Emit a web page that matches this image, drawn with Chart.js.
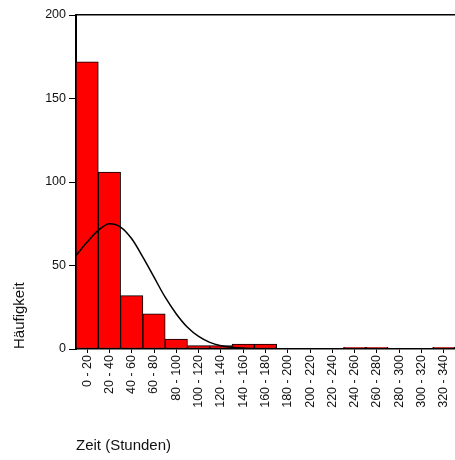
<!DOCTYPE html>
<html>
<head>
<meta charset="utf-8">
<script src="https://cdn.jsdelivr.net/npm/chart.js@4"></script>
<style>
  html, body { margin: 0; padding: 0; background: #fff; }
  #wrap { width: 455px; height: 460px; position: relative; }
</style>
</head>
<body>
<div id="wrap"><canvas id="c"></canvas></div>
<script>
// Class intervals (hours) and their frequencies
const categories = ['0 - 20', '20 - 40', '40 - 60', '60 - 80', '80 - 100', '100 - 120',
  '120 - 140', '140 - 160', '160 - 180', '180 - 200', '200 - 220', '220 - 240',
  '240 - 260', '260 - 280', '280 - 300', '300 - 320', '320 - 340'];
const frequencies = [172, 106, 32, 21, 6, 2, 2, 3, 3, 0, 0, 0, 1, 1, 0, 0, 1];

// Fitted normal curve, sampled along the time axis (hours -> frequency)
const curveHours  = [0, 10, 20, 30, 40, 50, 60, 70, 80, 90, 100, 110, 120, 130, 140, 150, 160, 180, 200, 240, 280, 340];
const curveValues = [56, 64, 71, 75, 73, 66, 55, 43, 31, 21, 13, 7.5, 4, 2, 1, 0.5, 0.2, 0, 0, 0, 0, 0];

// Y axis tick values
const yTicks = [0, 50, 100, 150, 200];

const FONT = 'Liberation Sans, Arial, Helvetica, sans-serif';

new Chart(document.getElementById('c'), {
  type: 'bar',
  data: {
    labels: categories,
    datasets: [
      {
        type: 'line',
        xAxisID: 'xc',
        yAxisID: 'y',
        data: curveHours.map((h, i) => ({ x: h, y: curveValues[i] })),
        borderColor: '#000',
        borderWidth: 1.5,
        pointRadius: 0,
        cubicInterpolationMode: 'monotone',
        fill: false,
        order: 0
      },
      {
        type: 'bar',
        xAxisID: 'x',
        yAxisID: 'y',
        data: frequencies,
        backgroundColor: '#ff0000',
        borderColor: '#000',
        borderWidth: 1,
        borderSkipped: false,
        grouped: false,
        categoryPercentage: 1,
        barPercentage: 1,
        order: 1
      }
    ]
  },
  options: {
    responsive: true,
    maintainAspectRatio: false,
    animation: false,
    layout: { padding: { top: 15, left: 0, right: 0, bottom: 0 } },
    plugins: { legend: { display: false }, tooltip: { enabled: false } },
    scales: {
      x: {
        type: 'category',
        position: 'bottom',
        offset: true,
        grid: { display: true, drawOnChartArea: false, offset: false, color: '#000', tickLength: 4, lineWidth: 1 },
        border: { display: true, color: '#000', width: 1.5 },
        ticks: {
          minRotation: 90, maxRotation: 90, autoSkip: false, padding: 2,
          color: '#111', font: { family: FONT, size: 12.5 }
        },
        title: {
          display: true, text: 'Zeit (Stunden)', align: 'start',
          color: '#111', font: { family: FONT, size: 15 }, padding: { top: 5, bottom: 5 }
        },
        afterFit(scale) {
          scale.height = 111;
          scale.paddingLeft = 0;
          scale.paddingRight = 0;
        }
      },
      xc: {
        type: 'linear',
        position: 'top',
        offset: false,
        min: 0,
        max: 340,
        ticks: { display: false },
        grid: { display: false, offset: false },
        border: { display: true, color: '#000', width: 1.5 },
        afterFit(scale) {
          scale.height = 0;
          scale.paddingLeft = 0;
          scale.paddingRight = 0;
        }
      },
      y: {
        type: 'linear',
        position: 'left',
        min: 0,
        max: 200,
        afterBuildTicks(scale) { scale.ticks = yTicks.map(v => ({ value: v })); },
        grid: { display: true, drawOnChartArea: false, color: '#000', tickLength: 7, lineWidth: 1 },
        border: { display: true, color: '#000', width: 2 },
        ticks: { padding: 3, color: '#111', font: { family: FONT, size: 12.5 } },
        title: {
          display: true, text: 'Häufigkeit', align: 'start',
          color: '#111', font: { family: FONT, size: 15 }, padding: { top: 11, bottom: 0 }
        },
        afterFit(scale) { scale.width = 76; }
      }
    }
  }
});
</script>
</body>
</html>
